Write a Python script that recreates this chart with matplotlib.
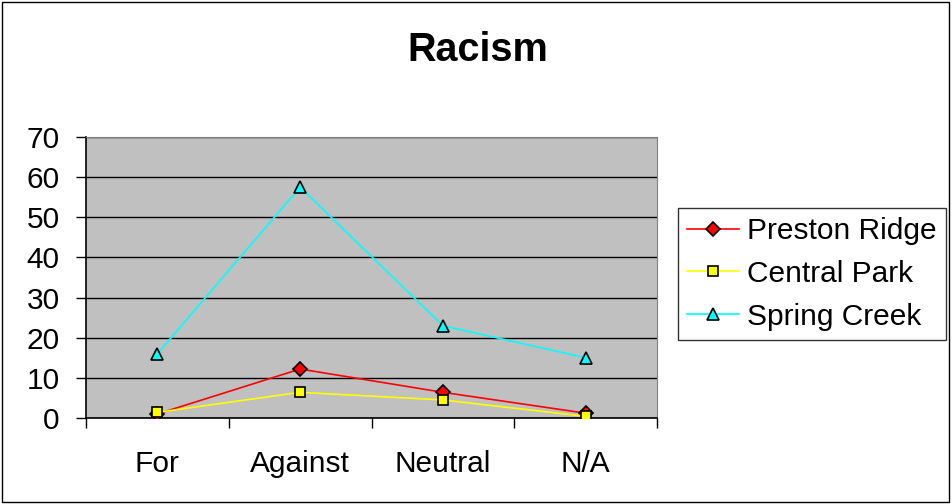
import matplotlib
matplotlib.use("Agg")
import matplotlib.pyplot as plt
from matplotlib.patches import Rectangle

plt.rcParams['font.family'] = ['Liberation Sans', 'DejaVu Sans']

categories = ['For', 'Against', 'Neutral', 'N/A']
preston_ridge = [1, 12.2, 6.4, 1.2]
central_park = [1.4, 6.4, 4.5, 0.4]
spring_creek = [16, 57.5, 23, 15]

fig = plt.figure(figsize=(9.52, 5.04), dpi=100)
fig.patches.append(Rectangle((0.002, 0.003), 0.995, 0.993, transform=fig.transFigure,
                             fill=False, edgecolor='black', linewidth=1))

ax = fig.add_axes([86 / 952, 1 - 418 / 504, (657 - 86) / 952, (418 - 137) / 504])
ax.set_facecolor('#C0C0C0')

x = list(range(len(categories)))
ax.plot(x, preston_ridge, color='#FF0000', lw=1.2, marker='D', ms=7,
        mfc='#FF0000', mec='black', mew=1.2, label='Preston Ridge', zorder=3)
ax.plot(x, central_park, color='#FFFF00', lw=1.2, marker='s', ms=7,
        mfc='#FFFF00', mec='black', mew=1.2, label='Central Park', zorder=3)
ax.plot(x, spring_creek, color='#00FFFF', lw=1.2, marker='^', ms=8,
        mfc='#00FFFF', mec='black', mew=1.2, label='Spring Creek', zorder=3)

ax.set_xlim(-0.5, 3.5)
ax.set_ylim(0, 70)
ax.set_yticks(range(0, 71, 10))
ax.yaxis.grid(True, color='black', lw=1)
ax.set_axisbelow(True)

# category labels sit between the tick marks at the boundaries
ax.set_xticks([-0.5, 0.5, 1.5, 2.5, 3.5])
ax.set_xticklabels([])
ax.set_xticks(x, minor=True)
ax.set_xticklabels(categories, minor=True)
ax.tick_params(axis='x', which='minor', length=0, pad=23, labelsize=21.5)
ax.tick_params(axis='x', which='major', length=7, direction='out', width=1)
ax.tick_params(axis='y', length=7, direction='out', width=1, labelsize=21.5, pad=12)

for side in ['top', 'right']:
    ax.spines[side].set_color('#808080')
for side in ['left', 'bottom']:
    ax.spines[side].set_color('black')
    ax.spines[side].set_linewidth(1.2)

fig.text(478 / 952, 1 - 50 / 504, 'Racism', ha='center', va='center',
         fontsize=28.5, fontweight='bold')

leg = fig.legend(loc='upper left', bbox_to_anchor=(678 / 952, 1 - 208 / 504),
                 fontsize=21.5, frameon=True, fancybox=False, edgecolor='black',
                 borderpad=0.3, labelspacing=0.5, handlelength=1.75,
                 handletextpad=0.27, borderaxespad=0)
leg.get_frame().set_linewidth(1)

fig.savefig('out.png', dpi=100)
